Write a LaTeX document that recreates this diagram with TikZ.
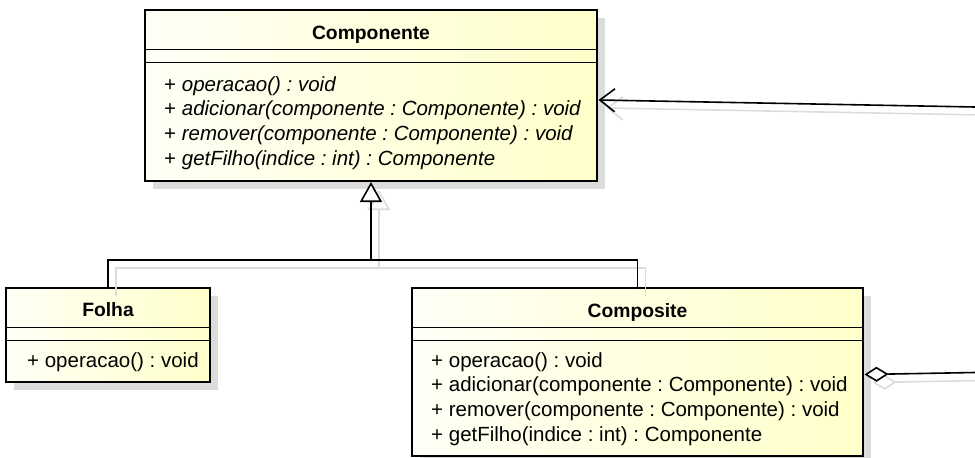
\documentclass[tikz,border=0pt]{standalone}
\usepackage{fontspec}
\setmainfont{Liberation Sans}
\usetikzlibrary{calc,arrows.meta,shadows}
\frenchspacing

\definecolor{classfill}{RGB}{255,255,202}
\definecolor{classpale}{RGB}{255,255,246}
\definecolor{shadowgray}{RGB}{220,220,220}

\tikzset{
	classbox/.style={draw=black, line width=2.8pt, left color=classpale, right color=classfill,
		anchor=north west, inner sep=0pt, outer sep=0pt,
		drop shadow={shadow xshift=8pt, shadow yshift=-8pt, fill=shadowgray, opacity=1}},
	divider/.style={line width=1.4pt},
	classname/.style={anchor=base, inner sep=0pt, font=\bfseries\fontsize{19.3}{23}\selectfont},
	method/.style={anchor=base west, inner sep=0pt, font=\fontsize{20.5}{24}\selectfont},
	link/.style={line width=1.6pt},
}

% the three connectors, drawn once as shadow and once in black
\def\umllinks#1{
	\draw[link, draw=#1] (folha.north) |- (bus) -| (composite.north);
	\draw[link, draw=#1, -{Triangle[length=20pt, width=22pt, fill=white]}] (bus) -- ($(comp.south)+(0,1)$);
	\draw[link, draw=#1, -{Straight Barb[length=15pt, width=23pt]}] (assocFar) -- ($(comp.east)+(1.5,4.5)$);
	\draw[link, draw=#1, {Diamond[length=24pt, width=15pt, fill=white]}-] ($(composite.east)+(1.5,2.5)$) -- (aggFar);
}

\begin{document}
\begin{tikzpicture}[x=1pt, y=-1pt]
	\useasboundingbox (0,0) rectangle (975,458);

	%%%%% classes %%%%%
	\node[classbox, minimum width=452, minimum height=171] (comp) at (145,10) {};
	\node[classbox, minimum width=204, minimum height=94] (folha) at (6,288) {};
	\node[classbox, minimum width=451, minimum height=168] (composite) at (412,288) {};

	\foreach \c in {comp, folha, composite} {
		\draw[divider] ($(\c.north west)+(0,39.5)$) -- ($(\c.north east)+(0,39.5)$);
		\draw[divider] ($(\c.north west)+(0,52.5)$) -- ($(\c.north east)+(0,52.5)$);
	}

	\node[classname] (comp-name) at ($(comp.north)+(0,29.5)$) {Componente};
	\node[classname] (folha-name) at ($(folha.north)+(0,28.5)$) {Folha};
	\node[classname] (composite-name) at ($(composite.north)+(0,29.5)$) {Composite};

	\foreach \m [count=\i] in {operacao() : void, adicionar(componente : Componente) : void,
		remover(componente : Componente) : void, getFilho(indice : int) : Componente}
		\node[method] (comp-m\i) at ($(comp.north west)+(19,{81+24.8*(\i-1)})$) {+ \textit{\m}};

	\node[method] (folha-m1) at ($(folha.north west)+(21,79)$) {+ operacao() : void};

	\foreach \m [count=\i] in {operacao() : void, adicionar(componente : Componente) : void,
		remover(componente : Componente) : void, getFilho(indice : int) : Componente}
		\node[method] (composite-m\i) at ($(composite.north west)+(19,{79+24.8*(\i-1)})$) {+ \m};

	%%%%% connectors %%%%%
	\coordinate (bus) at ($(comp.south)+(0,79)$);
	\coordinate (assocFar) at (975,107);
	\coordinate (aggFar) at (975,372.5);

	\begin{scope}[transform canvas={xshift=8pt, yshift=-8pt}]
		\umllinks{shadowgray}
	\end{scope}
	\umllinks{black}
\end{tikzpicture}
\end{document}
